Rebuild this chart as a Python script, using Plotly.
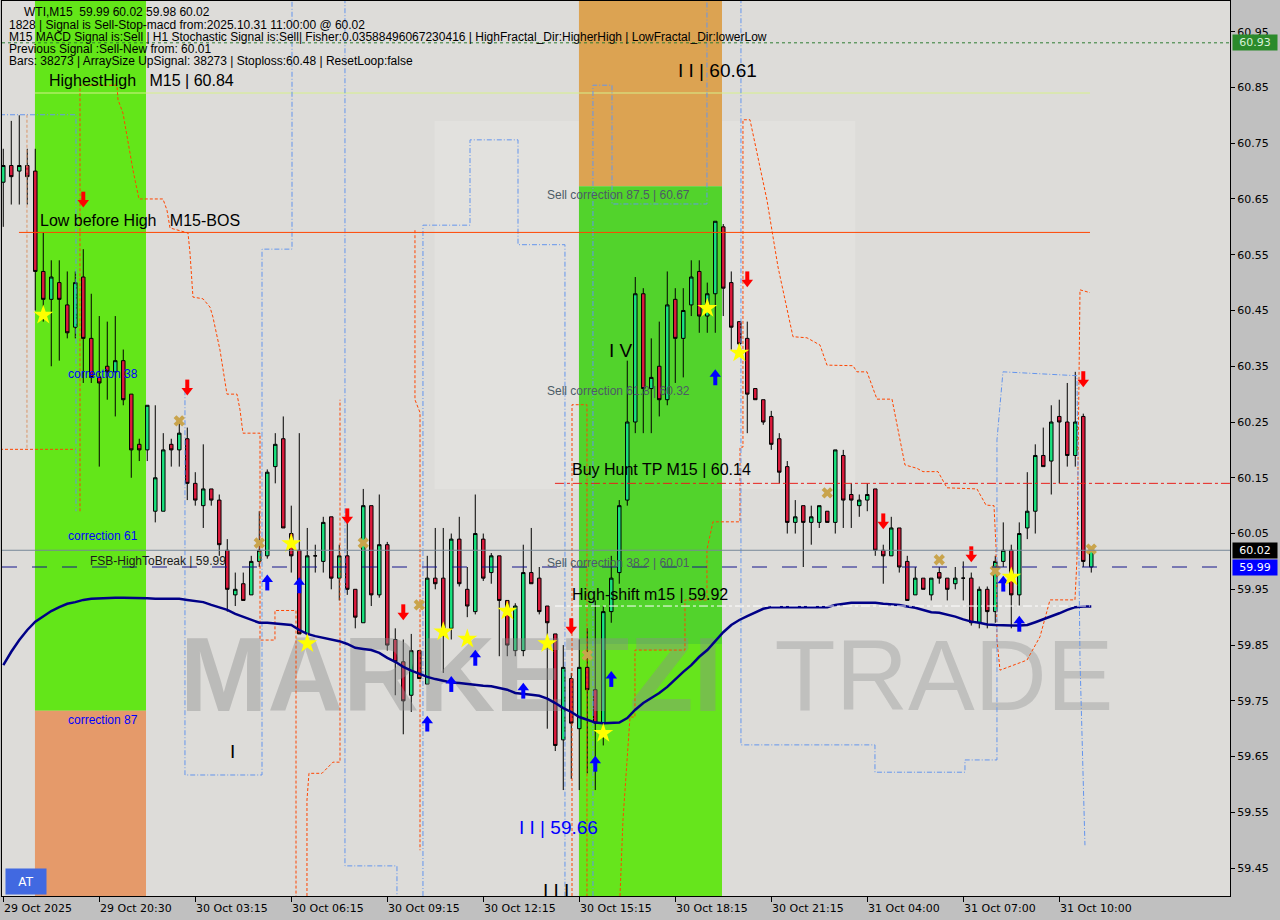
import plotly.graph_objects as go

# ---------------- data ----------------
tick_bars = [0, 12, 24, 36, 48, 60, 72, 84, 96, 108, 120, 132]
tick_labels = ["29 Oct 2025", "29 Oct 20:30", "30 Oct 03:15", "30 Oct 06:15", "30 Oct 09:15",
               "30 Oct 12:15", "30 Oct 15:15", "30 Oct 18:15", "30 Oct 21:15", "31 Oct 04:00",
               "31 Oct 07:00", "31 Oct 10:00"]
price_ticks = [59.45, 59.55, 59.65, 59.75, 59.85, 59.95, 60.05, 60.15, 60.25, 60.35, 60.45,
               60.55, 60.65, 60.75, 60.85, 60.95]

opens = [60.68, 60.71, 60.70, 60.71, 60.70, 60.52, 60.47, 60.50, 60.46, 60.42,
         60.51, 60.40, 60.33, 60.35, 60.34, 60.36, 60.30, 60.21, 60.20, 60.09,
         60.09, 60.21, 60.20, 60.22, 60.14, 60.10, 60.13, 60.11, 60.02, 59.94,
         59.96, 59.94, 60.00, 60.01, 60.17, 60.22, 60.05, 60.02, 59.87, 60.01,
         60.00, 60.08, 59.97, 60.01, 59.95, 59.89, 60.10, 59.94, 60.03, 59.86,
         59.82, 59.76, 59.84, 59.78, 59.97, 59.97, 59.88, 60.04, 59.95, 59.91,
         60.04, 59.98, 60.01, 59.93, 59.84, 59.84, 59.98, 59.97, 59.92, 59.87,
         59.68, 59.79, 59.70, 59.81, 59.77, 59.71, 59.91, 59.98, 60.11, 60.25,
         60.48, 60.31, 60.35, 60.29, 60.47, 60.40, 60.46, 60.52, 60.44, 60.48,
         60.60, 60.50, 60.43, 60.40, 60.31, 60.29, 60.26, 60.22, 60.17, 60.07,
         60.10, 60.07, 60.07, 60.09, 60.07, 60.19, 60.12, 60.10, 60.11, 60.13,
         60.02, 60.01, 60.06, 60.00, 59.94, 59.97, 59.94, 59.98, 59.97, 59.96,
         59.97, 59.97, 59.89, 59.95, 59.91, 60.00, 60.02, 59.94, 60.06, 60.09,
         60.19, 60.18, 60.26, 60.25, 60.19, 60.26, 59.99]
highs = [60.74, 60.79, 60.80, 60.74, 60.74, 60.59, 60.54, 60.54, 60.52, 60.52,
         60.56, 60.48, 60.44, 60.43, 60.44, 60.38, 60.30, 60.22, 60.28, 60.28,
         60.23, 60.22, 60.25, 60.24, 60.16, 60.21, 60.13, 60.12, 60.04, 59.98,
         59.98, 60.01, 60.09, 60.165, 60.23, 60.26, 60.10, 60.23, 60.06, 60.03,
         60.08, 60.08, 60.03, 60.09, 59.95, 60.13, 60.10, 60.12, 60.035, 59.88,
         59.86, 59.87, 59.84, 60.01, 60.06, 60.06, 60.05, 60.08, 59.99, 60.12,
         60.05, 60.015, 60.01, 59.93, 59.925, 60.03, 60.06, 59.99, 59.92, 59.87,
         59.85, 59.80, 59.86, 59.88, 59.93, 59.92, 60.01, 60.11, 60.36, 60.51,
         60.49, 60.40, 60.43, 60.52, 60.49, 60.49, 60.54, 60.54, 60.50, 60.61,
         60.605, 60.52, 60.43, 60.43, 60.31, 60.29, 60.27, 60.23, 60.18, 60.11,
         60.10, 60.10, 60.10, 60.09, 60.20, 60.20, 60.14, 60.12, 60.14, 60.13,
         60.03, 60.08, 60.06, 60.01, 59.99, 59.97, 59.97, 59.99, 59.97, 59.99,
         60.00, 59.98, 59.955, 59.955, 60.01, 60.07, 60.03, 60.07, 60.16, 60.21,
         60.24, 60.28, 60.29, 60.32, 60.34, 60.265, 60.02]
lows = [60.60, 60.64, 60.64, 60.64, 60.45, 60.43, 60.35, 60.36, 60.40, 60.40,
        60.32, 60.32, 60.17, 60.29, 60.26, 60.28, 60.15, 60.18, 60.18, 60.07,
        60.09, 60.17, 60.17, 60.11, 60.10, 60.06, 60.10, 60.01, 59.91, 59.92,
        59.93, 59.94, 59.99, 60.005, 60.14, 60.06, 59.98, 59.87, 59.85, 59.98,
        59.98, 59.95, 59.93, 59.94, 59.88, 59.89, 59.92, 59.935, 59.84, 59.76,
        59.69, 59.73, 59.79, 59.78, 59.95, 59.80, 59.86, 59.955, 59.90, 59.905,
        59.965, 59.96, 59.83, 59.83, 59.83, 59.83, 59.96, 59.905, 59.70, 59.66,
        59.59, 59.61, 59.59, 59.62, 59.59, 59.67, 59.89, 59.96, 60.10, 60.23,
        60.23, 60.23, 60.26, 60.28, 60.32, 60.33, 60.44, 60.41, 60.41, 60.41,
        60.44, 60.38, 60.38, 60.23, 60.29, 60.245, 60.20, 60.14, 60.05, 60.05,
        59.99, 60.03, 60.06, 60.07, 60.05, 60.06, 60.06, 60.08, 60.09, 60.01,
        59.96, 60.01, 59.98, 59.93, 59.94, 59.95, 59.93, 59.96, 59.93, 59.95,
        59.93, 59.885, 59.88, 59.88, 59.89, 59.99, 59.88, 59.92, 60.04, 60.05,
        60.17, 60.12, 60.14, 60.17, 60.17, 59.99, 59.98]
closes = [60.71, 60.69, 60.71, 60.69, 60.52, 60.47, 60.51, 60.47, 60.41, 60.50,
          60.40, 60.33, 60.32, 60.34, 60.36, 60.29, 60.20, 60.20, 60.28, 60.15,
          60.20, 60.20, 60.23, 60.14, 60.11, 60.13, 60.11, 60.03, 59.95, 59.95,
          59.93, 60.00, 60.02, 60.16, 60.21, 60.06, 60.01, 59.87, 60.01, 60.01,
          60.07, 59.97, 60.01, 59.95, 59.90, 60.10, 59.94, 60.03, 59.85, 59.82,
          59.75, 59.84, 59.79, 59.97, 59.96, 59.88, 60.04, 59.96, 59.92, 60.05,
          59.97, 60.01, 59.93, 59.85, 59.92, 59.98, 59.96, 59.91, 59.89, 59.67,
          59.81, 59.71, 59.81, 59.77, 59.71, 59.91, 59.97, 60.10, 60.25, 60.48,
          60.31, 60.33, 60.29, 60.46, 60.40, 60.45, 60.51, 60.44, 60.48, 60.61,
          60.49, 60.42, 60.39, 60.30, 60.29, 60.25, 60.21, 60.16, 60.07, 60.08,
          60.07, 60.08, 60.10, 60.07, 60.20, 60.11, 60.11, 60.11, 60.12, 60.02,
          60.01, 60.06, 59.99, 59.93, 59.97, 59.95, 59.97, 59.97, 59.95, 59.97,
          59.97, 59.89, 59.95, 59.91, 60.00, 60.02, 59.94, 60.05, 60.09, 60.19,
          60.17, 60.25, 60.25, 60.19, 60.25, 60.00, 60.02]
ma_values = [59.814, 59.838, 59.859, 59.877, 59.892, 59.902, 59.911, 59.918, 59.924, 59.927,
             59.931, 59.933, 59.934, 59.935, 59.935, 59.935, 59.935, 59.935, 59.934, 59.933,
             59.933, 59.933, 59.933, 59.931, 59.929, 59.927, 59.922, 59.917, 59.913, 59.906,
             59.901, 59.895, 59.890, 59.890, 59.889, 59.888, 59.886, 59.877, 59.870, 59.866,
             59.863, 59.861, 59.857, 59.852, 59.845, 59.843, 59.841, 59.836, 59.827, 59.820,
             59.811, 59.804, 59.798, 59.793, 59.789, 59.786, 59.783, 59.782, 59.780, 59.779,
             59.777, 59.776, 59.773, 59.770, 59.764, 59.763, 59.761, 59.759, 59.754, 59.746,
             59.737, 59.730, 59.721, 59.716, 59.711, 59.710, 59.710, 59.711, 59.719, 59.734,
             59.746, 59.755, 59.764, 59.775, 59.789, 59.802, 59.814, 59.829, 59.841, 59.857,
             59.873, 59.886, 59.895, 59.902, 59.909, 59.915, 59.918, 59.918, 59.918, 59.918,
             59.918, 59.918, 59.918, 59.918, 59.922, 59.924, 59.926, 59.926, 59.926, 59.926,
             59.924, 59.923, 59.922, 59.919, 59.917, 59.913, 59.909, 59.908, 59.905, 59.901,
             59.896, 59.892, 59.890, 59.887, 59.886, 59.885, 59.885, 59.885, 59.886, 59.891,
             59.896, 59.902, 59.907, 59.913, 59.918, 59.919, 59.919]

# signal markers (bar index, price)
sell_arrow_bar = [10, 23, 43, 50, 71, 93, 110, 121, 135]
sell_arrow_px = [60.648, 60.311, 60.080, 59.908, 59.883, 60.505, 60.071, 60.012, 60.326]
buy_arrow_bar = [33, 37, 53, 56, 59, 65, 74, 76, 89, 125, 127]
buy_arrow_px = [59.963, 59.958, 59.710, 59.781, 59.828, 59.769, 59.638, 59.790, 60.331, 59.961, 59.889]
star_bar = [5, 36, 38, 55, 58, 63, 68, 75, 88, 92, 126]
star_px = [60.442, 60.032, 59.853, 59.874, 59.861, 59.911, 59.853, 59.692, 60.454, 60.374, 59.972]
cross_bar = [22, 32, 45, 52, 73, 103, 117, 124, 136]
cross_px = [60.252, 60.033, 60.033, 59.922, 59.832, 60.123, 60.003, 59.983, 60.022]

# indicator levels
highest_high = 60.84
low_before_high = 60.59
buy_hunt_tp = 60.14
high_shift = 59.92
bid_price = 60.02
fsb_high = 59.99
stop_level = 60.93

# stepped envelope lines (bar index, price)
or0_x = [-0.41, 9.09]
or0_y = [60.201, 60.201]
or1_x = [9.59, 9.59, 14.21, 14.34, 14.96, 15.59, 16.21, 16.96, 19.96, 20.46, 20.84, 23.09,
         23.34, 23.71, 24.96, 25.84, 26.21, 27.09, 27.46, 27.96, 29.21, 29.59, 29.96, 32.09, 32.09,
         33.96, 33.96, 36.59, 36.59]
or1_y = [60.090, 60.854, 60.854, 60.828, 60.804, 60.750, 60.702, 60.650, 60.650, 60.630,
         60.598, 60.589, 60.553, 60.474, 60.471, 60.456, 60.438, 60.379, 60.348, 60.300, 60.300,
         60.272, 60.230, 60.230, 59.859, 59.859, 59.912, 59.912, 59.400]
or4_x = [37.96, 37.96, 38.21, 39.84, 41.21, 42.09, 42.09]
or4_y = [59.400, 59.572, 59.620, 59.620, 59.640, 59.640, 60.290]
or5_x = [51.46, 51.46, 52.09, 52.09]
or5_y = [60.594, 60.290, 60.267, 59.482]
or6_x = [71.09, 71.09, 72.96, 72.96]
or6_y = [59.400, 60.281, 60.281, 59.400]
or3_x = [77.09, 77.46, 78.34, 78.96, 78.96, 85.21, 85.21, 87.96, 87.96, 88.71, 92.09, 92.09, 92.46,
         92.46, 93.34, 95.46, 96.84, 98.71, 100.46, 102.09, 102.96, 106.21, 106.71, 107.96, 109.21,
         111.09, 112.71, 114.21, 114.96, 116.84, 117.96, 121.71, 122.84, 123.84, 124.09, 124.21,
         124.59, 127.96, 129.59, 130.84, 133.96, 134.21, 134.59, 135.84]
or3_y = [59.400, 59.536, 59.721, 59.721, 59.841, 59.841, 59.931, 59.931, 60.021, 60.071, 60.071,
         60.205, 60.205, 60.792, 60.792, 60.648, 60.528, 60.403, 60.401, 60.388, 60.352, 60.351,
         60.340, 60.340, 60.291, 60.291, 60.173, 60.167, 60.161, 60.161, 60.132, 60.130, 60.101,
         60.100, 60.026, 59.859, 59.805, 59.823, 59.865, 59.931, 59.931, 60.003, 60.487, 60.482]
tan_x = [2.96, 2.96]
tan_y = [60.801, 60.201]
bl1_x = [-0.41, 9.09, 9.09]
bl1_y = [60.801, 60.801, 60.090]
bl2_x = [22.71, 22.71, 32.34, 32.34, 36.09, 36.09]
bl2_y = [60.307, 59.617, 59.617, 60.560, 60.560, 61.010]
bl2b_x = [42.71, 42.71, 49.21, 49.21]
bl2b_y = [61.010, 59.454, 59.454, 59.400]
bl3_x = [52.46, 52.46, 58.34, 58.34, 64.34, 64.34, 70.21, 70.21]
bl3_y = [59.400, 60.603, 60.603, 60.756, 60.756, 60.568, 60.568, 59.400]
bl4_x = [73.71, 73.71, 76.09, 76.09, 87.96, 87.96]
bl4_y = [59.400, 60.854, 60.854, 60.641, 60.641, 61.010]
bl6_x = [92.21, 92.21, 108.96, 108.96, 120.21, 120.21, 124.21, 124.21, 124.96, 134.21, 134.59, 135.21]
bl6_y = [61.010, 59.671, 59.671, 59.622, 59.622, 59.644, 59.644, 60.218, 60.340, 60.333, 59.823, 59.491]

# ---------------- figure ----------------
bars = list(range(len(opens)))
X0, X1 = -0.16, 153.34
Y0, Y1 = 59.400, 61.005
PX = 0.0017931  # price per screen pixel, used only for arrow glyph construction

fig = go.Figure()

shapes = [
    dict(type="rect", xref="x", yref="y", x0=53.9, x1=106.5, y0=60.13, y1=60.79,
         fillcolor="rgba(255,255,255,0.15)", line_width=0, layer="below"),
    dict(type="rect", xref="x", yref="y", x0=3.96, x1=17.84, y0=59.732, y1=Y1, fillcolor="#63e619", line_width=0, layer="below"),
    dict(type="rect", xref="x", yref="y", x0=3.96, x1=17.84, y0=Y0, y1=59.732, fillcolor="#e59a6a", line_width=0, layer="below"),
    dict(type="rect", xref="x", yref="y", x0=71.96, x1=89.84, y0=60.673, y1=Y1, fillcolor="#dca352", line_width=0, layer="below"),
    dict(type="rect", xref="x", yref="y", x0=71.96, x1=89.84, y0=59.852, y1=60.673, fillcolor="#52d32c", line_width=0, layer="below"),
    dict(type="rect", xref="x", yref="y", x0=71.96, x1=89.84, y0=Y0, y1=59.852, fillcolor="#66e51c", line_width=0, layer="below"),
    dict(type="line", xref="x", yref="y", x0=3.96, x1=135.84, y0=highest_high, y1=highest_high, line=dict(color="#d6f08a", width=1), layer="below"),
    dict(type="line", xref="x", yref="y", x0=1.96, x1=135.84, y0=low_before_high, y1=low_before_high, line=dict(color="#ff4500", width=1)),
    dict(type="line", xref="x", yref="y", x0=68.96, x1=X1, y0=buy_hunt_tp, y1=buy_hunt_tp, line=dict(color="#e8201c", width=1, dash="dashdot")),
    dict(type="line", xref="x", yref="y", x0=68.96, x1=135.84, y0=high_shift, y1=high_shift, line=dict(color="#ffffff", width=1, dash="dashdot")),
    dict(type="line", xref="paper", yref="y", x0=0, x1=1, y0=bid_price, y1=bid_price, line=dict(color="#778899", width=1)),
    dict(type="line", xref="paper", yref="y", x0=0, x1=1, y0=fsb_high, y1=fsb_high, line=dict(color="#14148c", width=1, dash="longdash")),
    dict(type="line", xref="paper", yref="y", x0=0, x1=1, y0=stop_level, y1=stop_level, line=dict(color="#2e7d32", width=1, dash="3px,3px")),
]
fig.update_layout(shapes=shapes)

# watermark (under the candles)
fig.add_trace(go.Scatter(x=[56.0], y=[59.779], mode="text", text=["MARKETZI"],
                         textfont=dict(family="Liberation Sans", size=105, weight="bold", color="rgba(140,140,140,0.42)"),
                         cliponaxis=False, hoverinfo="skip", showlegend=False))
fig.add_trace(go.Scatter(x=[117.6], y=[59.779], mode="text", text=["TRADE"],
                         textfont=dict(family="Liberation Sans", size=100, color="rgba(150,150,150,0.40)"),
                         cliponaxis=False, hoverinfo="skip", showlegend=False))

# envelope lines
DO, DB = "3px,2px", "5px,2px,1px,2px"
OR, BL = "#ff4500", "#6495ed"
for xs, ys, col, dsh in [(or0_x, or0_y, OR, DO), (or1_x, or1_y, OR, DO), (or3_x, or3_y, OR, DO),
                         (or4_x, or4_y, OR, DO), (or5_x, or5_y, OR, DO), (or6_x, or6_y, OR, DO),
                         (tan_x, tan_y, "#d9956a", DO),
                         (bl1_x, bl1_y, BL, DB), (bl2_x, bl2_y, BL, DB), (bl2b_x, bl2b_y, BL, DB),
                         (bl3_x, bl3_y, BL, DB), (bl4_x, bl4_y, BL, DB), (bl6_x, bl6_y, BL, DB)]:
    fig.add_trace(go.Scatter(x=xs, y=ys, mode="lines", line=dict(color=col, width=1, dash=dsh),
                             hoverinfo="skip", showlegend=False))

# moving average
fig.add_trace(go.Scatter(x=bars, y=ma_values, mode="lines", line=dict(color="#000087", width=2.5),
                         hoverinfo="skip", showlegend=False))

# candles
fig.add_trace(go.Candlestick(
    x=bars, open=opens, high=highs, low=lows, close=closes,
    increasing=dict(fillcolor="#19e27e", line=dict(color="#000000", width=1)),
    decreasing=dict(fillcolor="#dc1a3c", line=dict(color="#000000", width=1)),
    whiskerwidth=0, showlegend=False))

def arrow(xs, ys, color, down):
    s = 1 if down else -1
    fig.add_trace(go.Scatter(x=xs, y=[v + s * 3.5 * PX for v in ys], mode="markers",
                             marker=dict(symbol="line-ns", size=7, line=dict(width=4, color=color)),
                             hoverinfo="skip", showlegend=False))
    fig.add_trace(go.Scatter(x=xs, y=[v - s * 2.5 * PX for v in ys], mode="markers",
                             marker=dict(symbol="triangle-down" if down else "triangle-up", size=10,
                                         color=color, line=dict(width=0)),
                             hoverinfo="skip", showlegend=False))

arrow(sell_arrow_bar, sell_arrow_px, "#ff0000", True)
arrow(buy_arrow_bar, buy_arrow_px, "#0000ff", False)

fig.add_trace(go.Scatter(x=star_bar, y=star_px, mode="markers",
                         marker=dict(symbol="star", size=15, color="#ffff00", line=dict(width=0)),
                         showlegend=False, hoverinfo="skip"))
fig.add_trace(go.Scatter(x=cross_bar, y=cross_px, mode="markers",
                         marker=dict(symbol="x", size=10, color="#c9a44c", line=dict(width=0)),
                         showlegend=False, hoverinfo="skip"))

fig.add_trace(go.Scatter(x=[67.46], y=[59.407], mode="text", text=["I I I"], textposition="middle right",
                         textfont=dict(family="Liberation Sans", size=19, color="#000000"),
                         cliponaxis=True, showlegend=False, hoverinfo="skip"))

ann = []

def lab(x, y, t, size=12, color="#000000", family="Liberation Sans"):
    ann.append(dict(x=x, y=y, xref="x", yref="y", text=t, showarrow=False, xanchor="left", yanchor="middle",
                    font=dict(family=family, size=size, color=color)))

lab(5.46, 60.862, "HighestHigh   M15 | 60.84", 16)
lab(4.34, 60.612, "Low before High   M15-BOS", 16)
lab(7.84, 60.336, "correction 38", 12, "#0000ff")
lab(7.84, 60.045, "correction 61", 12, "#0000ff")
lab(7.84, 59.716, "correction 87", 12, "#0000ff")
lab(10.59, 60.000, "FSB-HighToBreak | 59.99", 12, "#1a1a1a")
lab(28.09, 59.659, "I", 19)
lab(67.71, 60.657, "Sell correction 87.5 | 60.67", 12, "#4d5b66")
lab(67.71, 60.306, "Sell correction 61.8 | 60.32", 12, "#4d5b66")
lab(67.71, 59.997, "Sell correction 38.2 | 60.01", 12, "#4d5b66")
lab(84.09, 60.880, "I I | 60.61", 19)
lab(75.46, 60.379, "I V", 19)
lab(70.84, 60.164, "Buy Hunt TP M15 | 60.14", 16)
lab(70.84, 59.940, "High-shift m15 | 59.92", 16)
lab(64.21, 59.522, "I I | 59.66", 19, "#0000ff")

W, H = 1228.0, 895.0
def hdr(px, py, t, size=12):
    ann.append(dict(x=(px - 2) / W, y=1 - (py - 1) / H, xref="paper", yref="paper", text=t, showarrow=False,
                    xanchor="left", yanchor="middle", font=dict(family="Liberation Sans", size=size, color="#000000")))

hdr(22, 12, "WTI,M15  59.99 60.02 59.98 60.02")
hdr(7, 25, "1828 | Signal is Sell-Stop-macd from:2025.10.31 11:00:00 @ 60.02")
hdr(7, 37, "M15 MACD Signal is:Sell | H1 Stochastic Signal is:Sell| Fisher:0.03588496067230416 | HighFractal_Dir:HigherHigh | LowFractal_Dir:lowerLow")
hdr(7, 49, "Previous Signal :Sell-New from: 60.01")
hdr(7, 61, "Bars: 38273 | ArraySize UpSignal: 38273 | Stoploss:60.48 | ResetLoop:false")

for b, t in zip(tick_bars, tick_labels):
    ann.append(dict(x=b, y=-0.004, xref="x", yref="paper", text=t, showarrow=False, xanchor="left", yanchor="top",
                    xshift=-1, font=dict(family="DejaVu Sans", size=11, color="#000000")))

for p, bg, fg in [(stop_level, "#2b8a2b", "#d8f0d8"), (bid_price, "#000000", "#ffffff"), (fsb_high, "#0000ff", "#ffffff")]:
    ann.append(dict(x=1.0, y=p, xref="paper", yref="y", text=f"{p:.2f}", showarrow=False, xanchor="left",
                    yanchor="middle", xshift=2, bgcolor=bg, borderpad=1, width=42,
                    font=dict(family="DejaVu Sans", size=11, color=fg)))

ann.append(dict(x=3 / W, y=(896 - 881.5) / H, xref="paper", yref="paper", text="AT", showarrow=False,
                xanchor="left", yanchor="middle", bgcolor="#4169e1", width=38, height=23,
                font=dict(family="DejaVu Sans", size=12, color="#ffffff")))

fig.update_layout(annotations=ann)

fig.update_layout(
    width=1280, height=920,
    margin=dict(l=2, r=50, t=1, b=24),
    paper_bgcolor="#c0c0c0",
    plot_bgcolor="#dddcd9",
    showlegend=False,
    boxgap=0.38,
    xaxis=dict(range=[X0, X1], rangeslider=dict(visible=False), showgrid=False, zeroline=False,
               tickvals=tick_bars, ticktext=[""] * len(tick_bars), ticks="outside", ticklen=5,
               tickcolor="#000000", showline=True, linecolor="#000000", mirror=True, linewidth=1),
    yaxis=dict(range=[Y0, Y1], side="right", showgrid=False, zeroline=False, tickvals=price_ticks,
               ticktext=[f"{v:.2f}" for v in price_ticks], ticks="outside", ticklen=4, tickcolor="#000000",
               tickfont=dict(family="DejaVu Sans", size=11, color="#000000"),
               showline=True, linecolor="#000000", mirror=True, linewidth=1),
)

fig.write_html("out.html", config={"displayModeBar": False},
               post_script="document.body.style.margin='0';document.body.style.overflow='hidden';")
